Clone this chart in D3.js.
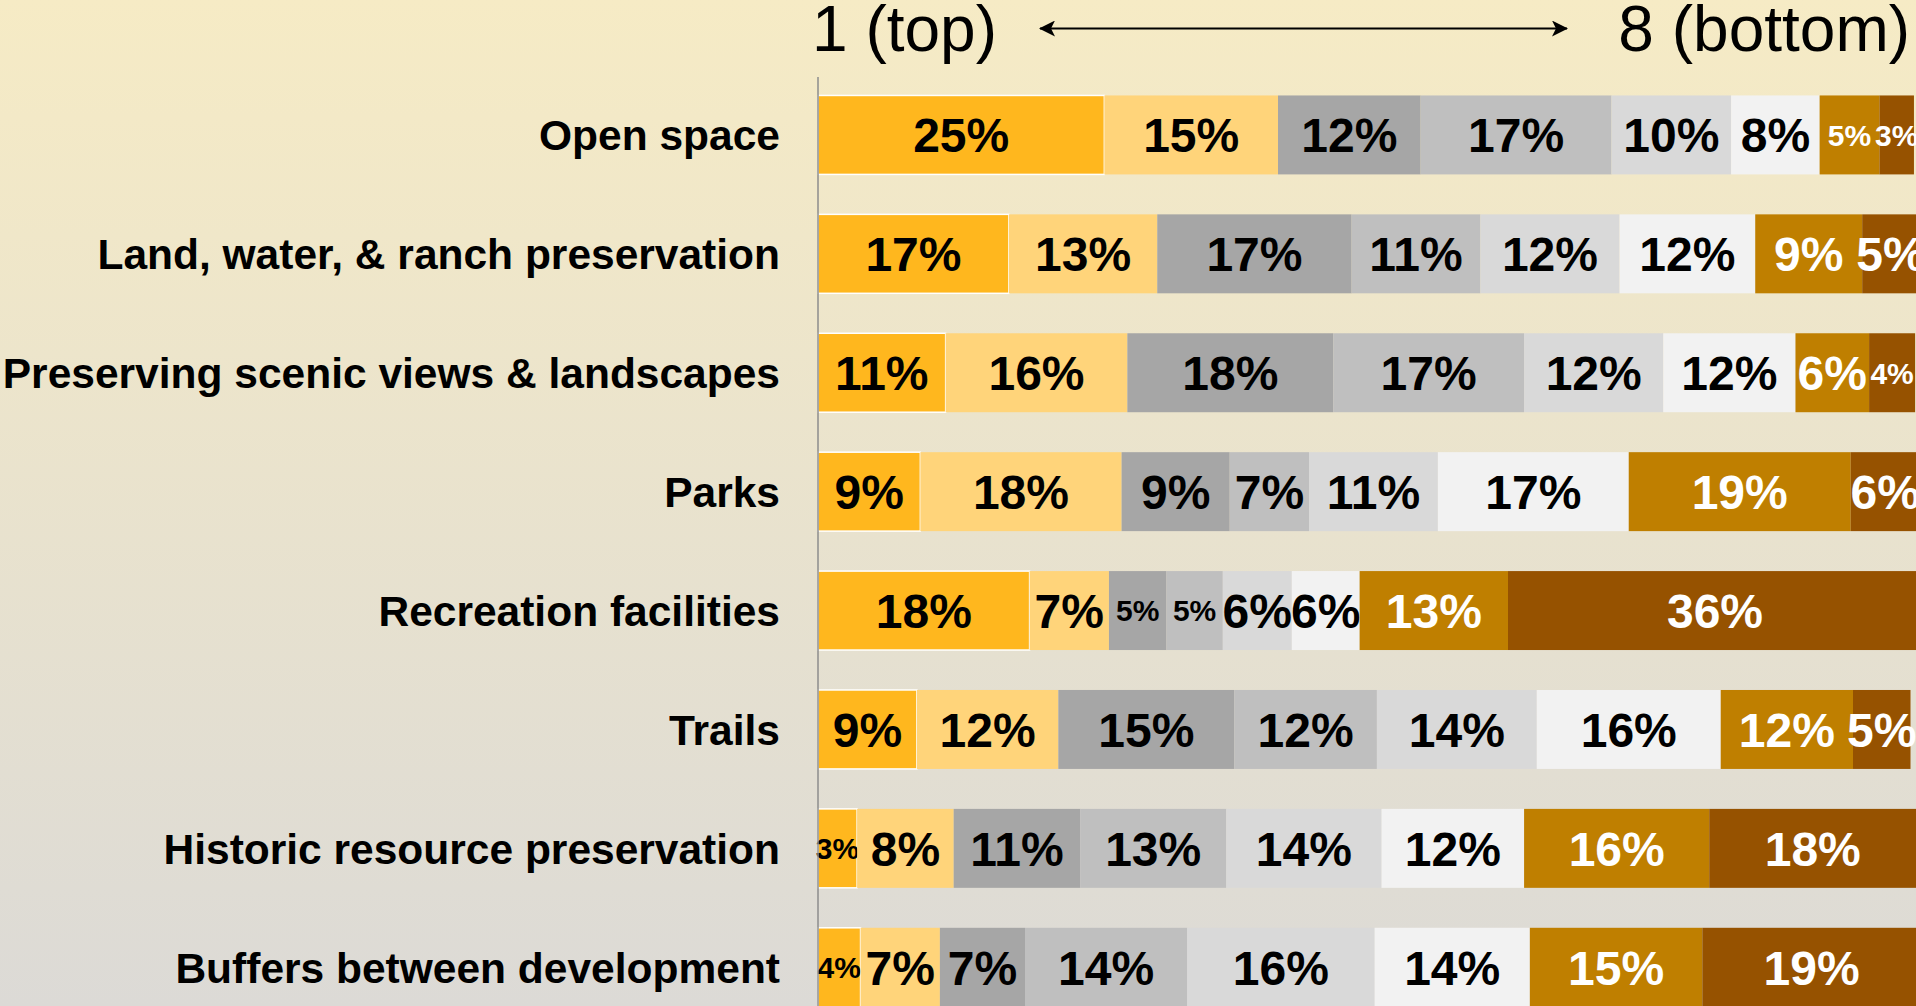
<!DOCTYPE html>
<html>
<head>
<meta charset="utf-8">
<script src="https://cdn.jsdelivr.net/npm/d3@7"></script>
<style>
  body { margin: 0; overflow: hidden; }
  svg { display: block; font-family: "Liberation Sans", Arial, sans-serif; }
</style>
</head>
<body>
<svg id="chart"></svg>
<script>
// categories, top to bottom
let categories = [
  "Open space",
  "Land, water, & ranch preservation",
  "Preserving scenic views & landscapes",
  "Parks",
  "Recreation facilities",
  "Trails",
  "Historic resource preservation",
  "Buffers between development"
];

// rank 1 (top) .. 8 (bottom)
let ranks = ["1", "2", "3", "4", "5", "6", "7", "8"];

// share of respondents (%) per rank, one array per category
let openSpace   = [24.9, 15.1, 12.4, 16.6, 10.4, 7.7, 5.2, 3.0];
let landWater   = [16.6, 12.9, 16.9, 11.2, 12.1, 11.8, 9.3, 5.0];
let scenicViews = [11.1, 15.8, 17.9, 16.6, 12.1, 11.5, 6.4, 4.0];
let parks       = [8.9, 17.5, 9.4, 6.9, 11.2, 16.6, 19.3, 6.0];
let recreation  = [18.4, 6.9, 5.0, 4.9, 6.0, 5.9, 12.9, 36.0];
let trails      = [8.6, 12.3, 15.3, 12.4, 13.9, 16.0, 11.5, 5.0];
let historic    = [3.4, 8.4, 11.0, 12.7, 13.5, 12.4, 16.1, 18.0];
let buffers     = [3.7, 6.9, 7.4, 14.1, 16.3, 13.5, 15.0, 19.0];

let seriesValues = [openSpace, landWater, scenicViews, parks, recreation, trails, historic, buffers];

let rankColors = ["#FFB71E", "#FFD47A", "#A6A6A6", "#BFBFBF", "#D9D9D9", "#F2F2F2", "#BF7F00", "#965200"];
let rankText   = ["#000", "#000", "#000", "#000", "#000", "#000", "#fff", "#fff"];

let width = 1916,
  height = 1006;

// table for d3.stack
let table = categories.map((c, i) => {
  let row = { category: c };
  ranks.forEach((r, j) => row[r] = seriesValues[i][j]);
  return row;
});

let stacked = d3.stack().keys(ranks)(table);

let xScale = d3.scaleLinear()
  .domain([0, 100])
  .range([818, 1968]);

let yScale = d3.scaleBand()
  .domain(categories)
  .range([55.5, 1046.7])
  .paddingInner(0.336)
  .paddingOuter(0.336);

let svg = d3.select("#chart")
  .attr("width", width)
  .attr("height", height);

// background gradient
let defs = svg.append("defs");
let grad = defs.append("linearGradient")
  .attr("id", "bg")
  .attr("x1", 0).attr("y1", 0).attr("x2", 0).attr("y2", 1);
grad.append("stop").attr("offset", "0%").attr("stop-color", "#F6EBC5");
grad.append("stop").attr("offset", "100%").attr("stop-color", "#DCDAD6");

svg.append("rect")
  .attr("width", width)
  .attr("height", height)
  .attr("fill", "url(#bg)");

// bars
let groups = svg.selectAll("g.rank")
  .data(stacked)
  .enter()
  .append("g")
  .attr("class", "rank");

groups.selectAll("rect")
  .data(s => s.map(d => ({ d: d, key: s.key, i: s.index })))
  .enter()
  .append("rect")
  .attr("x", p => xScale(p.d[0]))
  .attr("y", p => yScale(p.d.data.category))
  .attr("width", p => xScale(p.d[1]) - xScale(p.d[0]))
  .attr("height", yScale.bandwidth())
  .attr("fill", p => rankColors[p.i])
  .attr("stroke", p => p.i === 0 ? "#fff" : "none")
  .attr("stroke-width", 1.5);

// percentage labels (shrink when the segment is too narrow)
groups.selectAll("text")
  .data(s => s.map(d => ({ d: d, key: s.key, i: s.index })))
  .enter()
  .append("text")
  .attr("x", p => (xScale(p.d[0]) + xScale(p.d[1])) / 2)
  .attr("y", p => yScale(p.d.data.category) + yScale.bandwidth() / 2)
  .attr("dy", "0.36em")
  .attr("text-anchor", "middle")
  .attr("font-weight", "bold")
  .attr("font-size", p => {
    let w = xScale(p.d[1]) - xScale(p.d[0]);
    let v = p.d[1] - p.d[0];
    return (w >= 62 || (p.i === 7 && v >= 5)) ? 48 : 30;
  })
  .attr("fill", p => rankText[p.i])
  .text(p => Math.round(p.d[1] - p.d[0]) + "%");

// category labels
svg.selectAll("text.cat")
  .data(categories)
  .enter()
  .append("text")
  .attr("class", "cat")
  .attr("x", 780)
  .attr("y", d => yScale(d) + yScale.bandwidth() / 2)
  .attr("dy", "0.36em")
  .attr("text-anchor", "end")
  .attr("font-weight", "bold")
  .attr("font-size", 42.5)
  .attr("fill", "#000")
  .text(d => d);

// vertical axis line
svg.append("line")
  .attr("x1", xScale(0)).attr("x2", xScale(0))
  .attr("y1", 77).attr("y2", height)
  .attr("stroke", "#8C8C8C")
  .attr("stroke-width", 1.5);

// header: 1 (top) <----> 8 (bottom)
svg.append("text")
  .attr("x", 812)
  .attr("y", 51)
  .attr("font-size", 64)
  .attr("fill", "#000")
  .text("1 (top)");

svg.append("text")
  .attr("x", 1910)
  .attr("y", 51)
  .attr("text-anchor", "end")
  .attr("font-size", 64)
  .attr("fill", "#000")
  .text("8 (bottom)");

defs.append("marker")
  .attr("id", "head")
  .attr("markerUnits", "userSpaceOnUse")
  .attr("viewBox", "0 0 16 16")
  .attr("refX", 15).attr("refY", 8)
  .attr("markerWidth", 16).attr("markerHeight", 16)
  .attr("orient", "auto-start-reverse")
  .append("path")
  .attr("d", "M0,0 L16,8 L0,16 L4,8 Z")
  .attr("fill", "#000");

svg.append("line")
  .attr("x1", 1040).attr("x2", 1567)
  .attr("y1", 28.5).attr("y2", 28.5)
  .attr("stroke", "#000")
  .attr("stroke-width", 2.2)
  .attr("marker-start", "url(#head)")
  .attr("marker-end", "url(#head)");
</script>
</body>
</html>
